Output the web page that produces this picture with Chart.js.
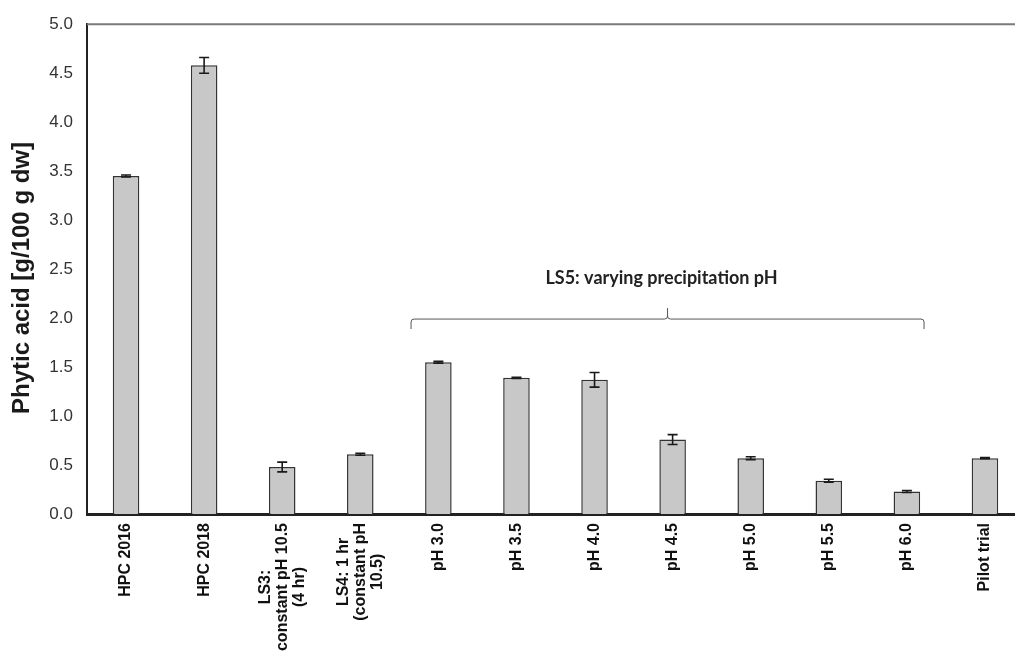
<!DOCTYPE html>
<html>
<head>
<meta charset="utf-8">
<script src="https://cdn.jsdelivr.net/npm/chart.js@4.4.1/dist/chart.umd.min.js"></script>
<style>
    html, body { margin: 0; padding: 0; background: #fff; overflow: hidden; }
    #wrap { position: absolute; left: 0; top: 0; }
</style>
</head>
<body>
<div id="wrap"><canvas id="chart" width="1032" height="656"></canvas></div>
<script>
const categories = [
    ['HPC 2016'],
    ['HPC 2018'],
    ['LS3:', 'constant pH 10.5', '(4 hr)'],
    ['LS4: 1 hr', '(constant pH', '10.5)'],
    ['pH 3.0'],
    ['pH 3.5'],
    ['pH 4.0'],
    ['pH 4.5'],
    ['pH 5.0'],
    ['pH 5.5'],
    ['pH 6.0'],
    ['Pilot trial']
];
const phyticAcid = [3.45, 4.58, 0.48, 0.61, 1.55, 1.39, 1.37, 0.76, 0.57, 0.34, 0.23, 0.57];
const errors = [0.01, 0.08, 0.05, 0.01, 0.01, 0.005, 0.075, 0.05, 0.015, 0.015, 0.01, 0.005];
const yTicks = [0, 0.5, 1, 1.5, 2, 2.5, 3, 3.5, 4, 4.5, 5];

// bracket over the LS5 group: from / to in category units, at y value
const bracketFrom = 3.65;
const bracketTo = 10.22;
const bracketY = 1.99;
const bracketText = 'LS5: varying precipitation pH';

const extras = {
    id: 'extras',
    afterDatasetsDraw(chart) {
        const { ctx, chartArea } = chart;
        const x = chart.scales.x;
        const y = chart.scales.y;
        const meta = chart.getDatasetMeta(0);

        // top frame line
        ctx.save();
        ctx.strokeStyle = '#7a7a7a';
        ctx.lineWidth = 2;
        ctx.beginPath();
        ctx.moveTo(chartArea.left, chartArea.top);
        ctx.lineTo(chartArea.right + 10, chartArea.top);
        ctx.stroke();

        // error bars
        ctx.strokeStyle = '#1a1a1a';
        ctx.lineWidth = 1.6;
        meta.data.forEach((bar, i) => {
            const hi = y.getPixelForValue(phyticAcid[i] + errors[i]);
            const lo = y.getPixelForValue(phyticAcid[i] - errors[i]);
            ctx.beginPath();
            ctx.moveTo(bar.x, hi);
            ctx.lineTo(bar.x, lo);
            ctx.moveTo(bar.x - 5, hi);
            ctx.lineTo(bar.x + 5, hi);
            ctx.moveTo(bar.x - 5, lo);
            ctx.lineTo(bar.x + 5, lo);
            ctx.stroke();
        });

        // bracket
        const bx1 = x.getPixelForValue(bracketFrom);
        const bx2 = x.getPixelForValue(bracketTo);
        const bm = (bx1 + bx2) / 2;
        const by = y.getPixelForValue(bracketY);
        ctx.strokeStyle = '#555';
        ctx.lineWidth = 1;
        ctx.beginPath();
        ctx.moveTo(bx1, by + 10);
        ctx.lineTo(bx1, by + 3);
        ctx.quadraticCurveTo(bx1, by, bx1 + 3, by);
        ctx.lineTo(bm - 3, by);
        ctx.quadraticCurveTo(bm, by, bm, by - 3);
        ctx.lineTo(bm, by - 11);
        ctx.moveTo(bm, by - 3);
        ctx.quadraticCurveTo(bm, by, bm + 3, by);
        ctx.lineTo(bx2 - 3, by);
        ctx.quadraticCurveTo(bx2, by, bx2, by + 3);
        ctx.lineTo(bx2, by + 10);
        ctx.stroke();

        ctx.fillStyle = '#222';
        ctx.font = 'bold 18px Lato';
        ctx.textAlign = 'center';
        ctx.textBaseline = 'middle';
        ctx.fillText(bracketText, bm - 6, y.getPixelForValue(2.41));

        // category labels, rotated, lines centred on each other
        ctx.font = 'bold 16px "Liberation Sans", Arial';
        ctx.fillStyle = '#111';
        const lh = 17;
        categories.forEach((lines, i) => {
            const cx = x.getPixelForValue(i);
            const maxW = Math.max(...lines.map(l => ctx.measureText(l).width));
            ctx.save();
            ctx.translate(cx, chartArea.bottom + 9);
            ctx.rotate(-Math.PI / 2);
            lines.forEach((line, j) => {
                ctx.fillText(line, -maxW / 2, (j - (lines.length - 1) / 2) * lh);
            });
            ctx.restore();
        });

        // y title
        ctx.save();
        ctx.font = 'bold 24px "Liberation Sans", Arial';
        ctx.fillStyle = '#1a1a1a';
        ctx.translate(22, 278);
        ctx.rotate(-Math.PI / 2);
        ctx.fillText('Phytic acid [g/100 g dw]', 0, 0);
        ctx.restore();

        ctx.restore();
    }
};

new Chart(document.getElementById('chart').getContext('2d'), {
    type: 'bar',
    data: {
        labels: categories,
        datasets: [
            {
                data: phyticAcid,
                backgroundColor: '#c8c8c8',
                borderColor: '#333',
                borderWidth: 1.5,
                categoryPercentage: 1,
                barPercentage: 0.34
            }
        ]
    },
    options: {
        responsive: false,
        animation: false,
        layout: { padding: { top: 21, right: 8, left: 0, bottom: 0 } },
        plugins: {
            legend: { display: false },
            tooltip: { enabled: false }
        },
        scales: {
            x: {
                grid: { display: false, drawTicks: false },
                border: { color: '#222', width: 3 },
                ticks: { display: false },
                afterFit: scale => { scale.height = 142; }
            },
            y: {
                min: 0,
                max: 5,
                afterBuildTicks: scale => { scale.ticks = yTicks.map(v => ({ value: v })); },
                grid: { display: false, drawTicks: false },
                border: { color: '#222', width: 2 },
                ticks: {
                    padding: 14,
                    color: '#333',
                    font: { family: '"Liberation Sans", Arial', size: 17 },
                    callback: v => v.toFixed(1)
                },
                afterFit: scale => { scale.width = 87; }
            }
        }
    },
    plugins: [extras]
});
</script>
</body>
</html>
